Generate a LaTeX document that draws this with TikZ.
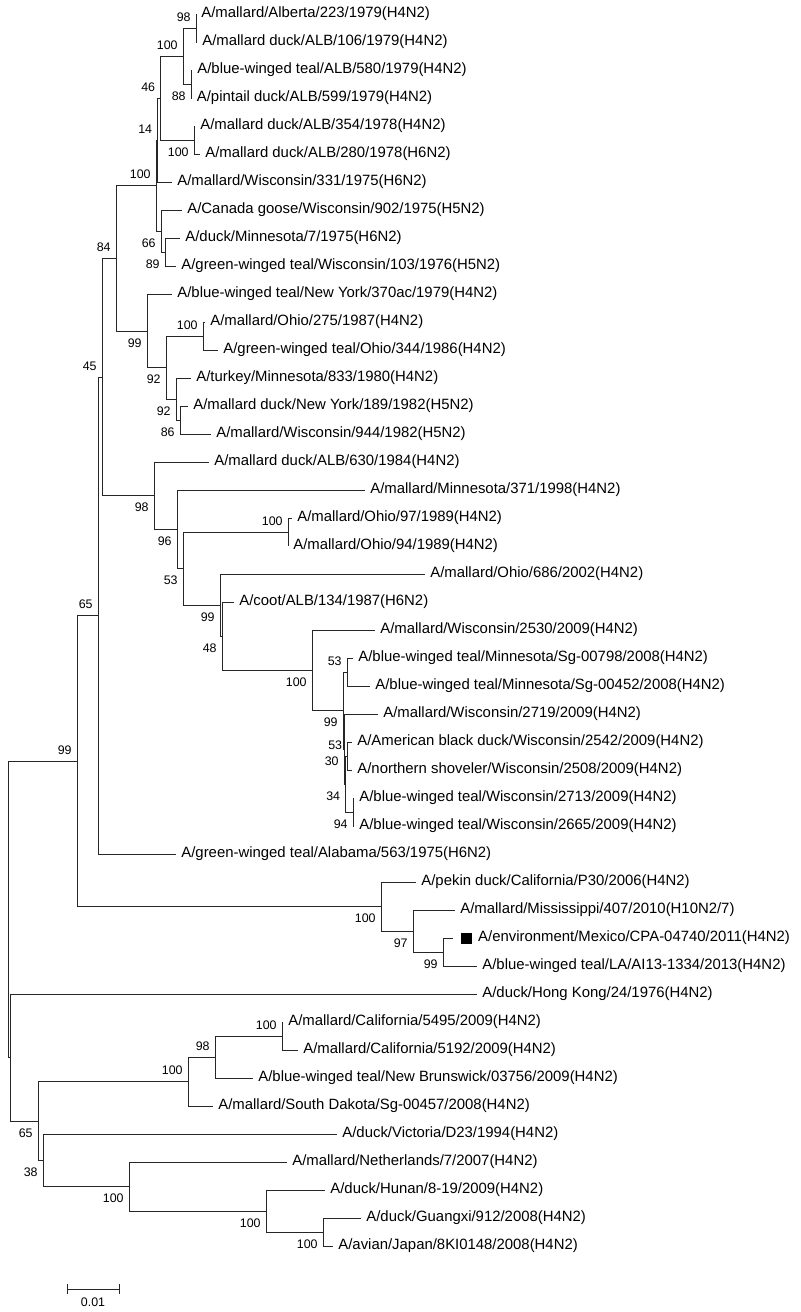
\documentclass[tikz,border=0pt]{standalone}
\usepackage{fontspec}
\setmainfont{Liberation Sans}
\usetikzlibrary{positioning}
\newcommand{\leaffont}{\fontsize{7.45}{8}\selectfont}
\newcommand{\bsfont}{\fontsize{6.2}{7}\selectfont}

\begin{document}
\begin{tikzpicture}[x=0.5pt, y=-0.5pt,
    branch/.style={line width=0.5pt, black!85},
    leaf/.style={font=\leaffont, anchor=west, inner xsep=2.5pt, inner ysep=0pt},
    bsa/.style={font=\bsfont, inner sep=0pt, anchor=south east, xshift=-2.5pt, yshift=3pt},
    bsb/.style={font=\bsfont, inner sep=0pt, anchor=north east, xshift=-2.5pt, yshift=-3.5pt},
    sqmark/.style={fill=black, minimum size=5.5pt, inner sep=0pt}]
    \useasboundingbox (0,0) rectangle (800,1312);

    % Lapų galai
    \foreach \i/\x in {1/196, 2/197, 3/192, 4/191.5, 5/195, 6/200, 7/172, 8/182, 9/180,
        10/176, 11/172, 12/205, 13/218, 14/191, 15/188, 16/211, 17/209, 18/365,
        19/292, 20/288, 21/425, 22/234, 23/375, 24/353, 25/370, 26/378, 27/352,
        28/352, 29/354, 30/354, 31/176, 32/416, 33/455, 34/453, 35/477, 36/477,
        37/283, 38/298, 39/253, 40/213, 41/337, 42/287, 43/325, 44/361, 45/333}
        {\coordinate (t\i) at (\x, {14+28*(\i-1)});}

    % Vidiniai mazgai
    \coordinate (n98a) at (196, 28);
    \coordinate (n88) at (191, 84);
    \coordinate (n100b) at (183, 56);
    \coordinate (n100c) at (194, 140);
    \coordinate (n46) at (160.5, 98);
    \coordinate (n14) at (157.5, 140);
    \coordinate (n89) at (165, 252);
    \coordinate (n66) at (161, 231);
    \coordinate (n100a) at (156, 185.5);
    \coordinate (n100d) at (203, 336);
    \coordinate (n86) at (180, 420);
    \coordinate (n92b) at (176, 399);
    \coordinate (n92a) at (166, 367.5);
    \coordinate (n99b) at (147, 331);
    \coordinate (n84) at (116, 258);
    \coordinate (n100e) at (288, 532);
    \coordinate (n94) at (353, 812);
    \coordinate (n53c) at (347.5, 756);
    \coordinate (n34) at (345.5, 784);
    \coordinate (n30) at (344, 749);
    \coordinate (n53b) at (347, 672);
    \coordinate (n99c) at (343, 710.5);
    \coordinate (n100f) at (312, 670);
    \coordinate (n48) at (222, 636);
    \coordinate (n99d) at (220, 605);
    \coordinate (n53a) at (183, 568.5);
    \coordinate (n96) at (177, 529);
    \coordinate (n98b) at (154, 495.5);
    \coordinate (n45) at (102, 377);
    \coordinate (n65a) at (98, 615.5);
    \coordinate (n99p) at (443, 952);
    \coordinate (n97) at (413, 931);
    \coordinate (n100p) at (381, 906.5);
    \coordinate (n99a) at (77, 761);
    \coordinate (n100g) at (282, 1036);
    \coordinate (n98c) at (215, 1057);
    \coordinate (n100h) at (188, 1081.5);
    \coordinate (n100k) at (323, 1232);
    \coordinate (n100j) at (266, 1211);
    \coordinate (n100i) at (129, 1186.5);
    \coordinate (n38) at (43, 1160);
    \coordinate (n65b) at (38, 1121);
    \coordinate (nX) at (10, 1057.5);
    \coordinate (root) at (8, 909);

    % Šakos
    \foreach \p/\c in {n98a/t1, n98a/t2, n88/t3, n88/t4, n100b/n98a, n100b/n88,
        n100c/t5, n100c/t6, n46/n100b, n46/n100c, n14/n46, n14/t7, n89/t9, n89/t10,
        n66/t8, n66/n89, n100a/n14, n100a/n66, n100d/t12, n100d/t13, n86/t15, n86/t16,
        n92b/t14, n92b/n86, n92a/n100d, n92a/n92b, n99b/t11, n99b/n92a, n84/n100a,
        n84/n99b, n100e/t19, n100e/t20, n94/t29, n94/t30, n53c/t27, n53c/t28,
        n34/n53c, n34/n94, n30/t26, n30/n34, n53b/t24, n53b/t25, n99c/n53b, n99c/n30,
        n100f/t23, n100f/n99c, n48/t22, n48/n100f, n99d/t21, n99d/n48, n53a/n100e,
        n53a/n99d, n96/t18, n96/n53a, n98b/t17, n98b/n96, n45/n84, n45/n98b,
        n65a/n45, n65a/t31, n99p/t34, n99p/t35, n97/t33, n97/n99p, n100p/t32,
        n100p/n97, n99a/n65a, n99a/n100p, n100g/t37, n100g/t38, n98c/n100g, n98c/t39,
        n100h/n98c, n100h/t40, n100k/t44, n100k/t45, n100j/t43, n100j/n100k,
        n100i/t42, n100i/n100j, n38/t41, n38/n100i, n65b/n100h, n65b/n38, nX/t36,
        nX/n65b, root/n99a, root/nX}
        {\draw[branch] (\p) |- (\c);}

    % Palaikymo reikšmės
    \foreach \n/\v in {n98a/98, n100b/100, n46/46, n14/14, n100a/100, n84/84,
        n100d/100, n45/45, n100e/100, n53b/53, n53c/53, n65a/65, n99a/99,
        n100h/100, n98c/98, n100g/100}
        {\node[bsa] (b\n) at (\n) {\v};}
    \foreach \n/\v in {n88/88, n100c/100, n66/66, n89/89, n99b/99, n92a/92,
        n92b/92, n86/86, n98b/98, n96/96, n53a/53, n99d/99, n48/48, n100f/100,
        n99c/99, n30/30, n34/34, n94/94, n100p/100, n97/97, n99p/99, n65b/65,
        n38/38, n100i/100, n100j/100, n100k/100}
        {\node[bsb] (b\n) at (\n) {\v};}

    % Lapų pavadinimai
    \node[leaf] (l1) at (t1) {A/mallard/Alberta/223/1979(H4N2)};
    \node[leaf] (l2) at (t2) {A/mallard duck/ALB/106/1979(H4N2)};
    \node[leaf] (l3) at (t3) {A/blue-winged teal/ALB/580/1979(H4N2)};
    \node[leaf] (l4) at (t4) {A/pintail duck/ALB/599/1979(H4N2)};
    \node[leaf] (l5) at (t5) {A/mallard duck/ALB/354/1978(H4N2)};
    \node[leaf] (l6) at (t6) {A/mallard duck/ALB/280/1978(H6N2)};
    \node[leaf] (l7) at (t7) {A/mallard/Wisconsin/331/1975(H6N2)};
    \node[leaf] (l8) at (t8) {A/Canada goose/Wisconsin/902/1975(H5N2)};
    \node[leaf] (l9) at (t9) {A/duck/Minnesota/7/1975(H6N2)};
    \node[leaf] (l10) at (t10) {A/green-winged teal/Wisconsin/103/1976(H5N2)};
    \node[leaf] (l11) at (t11) {A/blue-winged teal/New York/370ac/1979(H4N2)};
    \node[leaf] (l12) at (t12) {A/mallard/Ohio/275/1987(H4N2)};
    \node[leaf] (l13) at (t13) {A/green-winged teal/Ohio/344/1986(H4N2)};
    \node[leaf] (l14) at (t14) {A/turkey/Minnesota/833/1980(H4N2)};
    \node[leaf] (l15) at (t15) {A/mallard duck/New York/189/1982(H5N2)};
    \node[leaf] (l16) at (t16) {A/mallard/Wisconsin/944/1982(H5N2)};
    \node[leaf] (l17) at (t17) {A/mallard duck/ALB/630/1984(H4N2)};
    \node[leaf] (l18) at (t18) {A/mallard/Minnesota/371/1998(H4N2)};
    \node[leaf] (l19) at (t19) {A/mallard/Ohio/97/1989(H4N2)};
    \node[leaf] (l20) at (t20) {A/mallard/Ohio/94/1989(H4N2)};
    \node[leaf] (l21) at (t21) {A/mallard/Ohio/686/2002(H4N2)};
    \node[leaf] (l22) at (t22) {A/coot/ALB/134/1987(H6N2)};
    \node[leaf] (l23) at (t23) {A/mallard/Wisconsin/2530/2009(H4N2)};
    \node[leaf] (l24) at (t24) {A/blue-winged teal/Minnesota/Sg-00798/2008(H4N2)};
    \node[leaf] (l25) at (t25) {A/blue-winged teal/Minnesota/Sg-00452/2008(H4N2)};
    \node[leaf] (l26) at (t26) {A/mallard/Wisconsin/2719/2009(H4N2)};
    \node[leaf] (l27) at (t27) {A/American black duck/Wisconsin/2542/2009(H4N2)};
    \node[leaf] (l28) at (t28) {A/northern shoveler/Wisconsin/2508/2009(H4N2)};
    \node[leaf] (l29) at (t29) {A/blue-winged teal/Wisconsin/2713/2009(H4N2)};
    \node[leaf] (l30) at (t30) {A/blue-winged teal/Wisconsin/2665/2009(H4N2)};
    \node[leaf] (l31) at (t31) {A/green-winged teal/Alabama/563/1975(H6N2)};
    \node[leaf] (l32) at (t32) {A/pekin duck/California/P30/2006(H4N2)};
    \node[leaf] (l33) at (t33) {A/mallard/Mississippi/407/2010(H10N2/7)};
    \node[sqmark, right=4pt of t34] (sq34) {};
    \node[leaf] (l34) at (sq34.east) {A/environment/Mexico/CPA-04740/2011(H4N2)};
    \node[leaf] (l35) at (t35) {A/blue-winged teal/LA/AI13-1334/2013(H4N2)};
    \node[leaf] (l36) at (t36) {A/duck/Hong Kong/24/1976(H4N2)};
    \node[leaf] (l37) at (t37) {A/mallard/California/5495/2009(H4N2)};
    \node[leaf] (l38) at (t38) {A/mallard/California/5192/2009(H4N2)};
    \node[leaf] (l39) at (t39) {A/blue-winged teal/New Brunswick/03756/2009(H4N2)};
    \node[leaf] (l40) at (t40) {A/mallard/South Dakota/Sg-00457/2008(H4N2)};
    \node[leaf] (l41) at (t41) {A/duck/Victoria/D23/1994(H4N2)};
    \node[leaf] (l42) at (t42) {A/mallard/Netherlands/7/2007(H4N2)};
    \node[leaf] (l43) at (t43) {A/duck/Hunan/8-19/2009(H4N2)};
    \node[leaf] (l44) at (t44) {A/duck/Guangxi/912/2008(H4N2)};
    \node[leaf] (l45) at (t45) {A/avian/Japan/8KI0148/2008(H4N2)};

    % Mastelis
    \coordinate (sb1) at (67, 1289);
    \coordinate (sb2) at (119, 1289);
    \coordinate (sbm) at (93, 1289);
    \draw[branch] (sb1) -- (sb2);
    \draw[branch] ([yshift=2.5pt]sb1) -- ([yshift=-2.5pt]sb1);
    \draw[branch] ([yshift=2.5pt]sb2) -- ([yshift=-2.5pt]sb2);
    \node[font=\bsfont, inner sep=0pt, below=4.3pt of sbm] (sblab) {0.01};
\end{tikzpicture}
\end{document}
